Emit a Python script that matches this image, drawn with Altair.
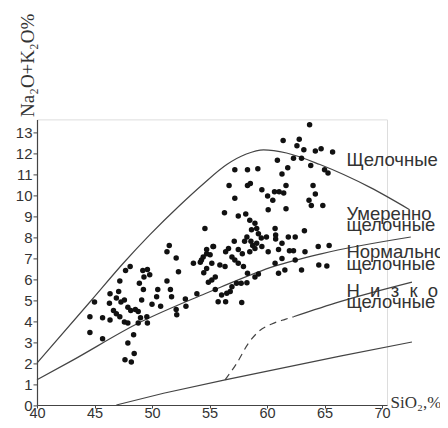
import altair as alt
import pandas as pd

# ---- scatter data: SiO2 (%) and Na2O+K2O (%) ----
sio2 = [
    51.3, 52.1, 52.3, 53.6, 54.2, 54.5, 48.1, 47.7, 49.2, 49.6,
    49.8, 49.3, 47.2, 48.9, 49.25, 51.3, 50.5, 51.6, 51.7, 46.35,
    47.1, 45.0, 46.3, 46.9, 47.3, 47.6, 49.1, 50.0, 50.4, 50.75,
    47.9, 48.15, 48.55, 48.8, 46.65, 46.9, 47.2, 44.6, 45.7, 46.35,
    47.6, 47.9, 48.8, 49.0, 49.55, 49.6, 52.1, 52.15, 52.95, 52.9,
    53.9, 44.6, 45.7, 48.4, 47.9, 48.45, 47.65, 48.2, 51.5, 54.45,
    54.75, 54.3, 55.3, 55.5,
    63.7, 61.4, 62.8, 62.6, 63.2, 64.2, 64.7, 65.7, 60.9, 62.3,
    63.0, 61.8, 61.3, 63.8, 65.0, 65.3, 57.2, 58.3, 59.2, 56.7,
    58.3, 58.55, 59.55, 60.05, 60.5, 60.65, 61.05, 61.45, 61.65, 64.0,
    64.2, 63.65, 63.85, 64.85, 57.2, 60.1, 61.65, 56.3, 57.5, 58.15,
    58.5, 58.95, 59.1, 58.65, 59.25, 59.5, 59.95, 58.25, 58.05, 58.6,
    58.75, 59.1, 60.7, 60.75, 60.75, 61.3, 62.3, 61.95, 63.3, 63.25,
    62.45, 61.85, 64.45, 65.4, 57.15, 56.65, 56.4, 57.5, 57.85, 58.5,
    58.95, 59.55, 60.1, 61.0, 55.35, 54.75, 55.05, 54.6, 56.95,
    60.7, 61.3, 62.45, 64.5, 65.2, 63.0, 61.55, 61.0, 59.25, 58.95,
    58.3, 57.95, 57.5, 57.2, 56.35, 55.9, 55.2, 54.75, 55.5, 55.2,
    54.9, 57.35, 57.75, 58.25, 56.95, 56.8, 56.5, 56.05, 55.75, 56.4,
    57.8,
]
alk = [
    7.3, 7.0, 6.35, 6.75, 6.8, 6.3, 6.6, 6.4, 6.4, 6.45,
    6.2, 6.1, 5.9, 5.8, 5.5, 5.9, 5.5, 5.5, 5.15, 5.3,
    5.4, 4.9, 4.85, 5.1, 4.9, 5.0, 5.0, 4.8, 5.15, 4.7,
    4.65, 4.5, 4.55, 4.45, 4.5, 4.35, 4.2, 4.2, 4.15, 4.05,
    3.95, 3.9, 3.9, 4.15, 4.2, 3.9, 4.55, 4.3, 4.7, 5.05,
    5.3, 3.45, 3.15, 3.35, 2.95, 2.45, 2.15, 2.05, 7.6, 7.05,
    7.2, 6.9, 7.55, 5.5,
    13.35, 12.6, 12.65, 12.35, 12.15, 12.1, 12.2, 12.05, 11.65, 11.75,
    11.75, 11.3, 11.0, 11.4, 11.2, 11.05, 11.2, 11.2, 11.25, 10.45,
    10.45, 10.55, 10.25, 9.95, 9.75, 10.15, 10.15, 10.1, 10.45, 10.45,
    10.05, 9.75, 9.5, 9.5, 9.85, 9.3, 9.35, 9.15, 9.0, 9.1,
    8.8, 8.65, 8.4, 8.35, 8.15, 7.95, 8.0, 8.0, 7.8, 7.8,
    7.6, 7.7, 8.4, 8.1, 7.9, 7.7, 7.35, 7.35, 7.3, 8.3,
    8.0, 8.0, 7.55, 7.6, 7.8, 7.45, 7.3, 7.4, 7.2, 7.3,
    7.45, 7.55, 7.3, 7.4, 7.55, 7.4, 7.15, 8.4, 7.05,
    6.75, 6.98, 6.9, 6.67, 6.62, 6.43, 6.43, 6.27, 6.24, 6.1,
    6.27, 6.6, 6.75, 6.9, 6.6, 6.67, 6.75, 6.5, 6.1, 5.95,
    5.85, 5.8, 5.8, 5.82, 5.63, 5.4, 5.32, 5.24, 4.92, 4.92,
    4.88,
]

# ---- boundary lines ----
upper_x = [40, 44.75, 47.5, 49.8, 52.4, 54.5, 56.5, 58.2, 59.7, 61.7, 64.6, 69.0, 72.4]
upper_y = [2.0, 5.0, 6.75, 8.1, 9.5, 10.55, 11.45, 11.95, 12.15, 12.0, 11.45, 10.35, 9.3]

middle_x = [40, 43.0, 49.0, 54.6, 56.0, 60.6, 64.7, 72.5]
middle_y = [1.2, 2.1, 3.95, 5.3, 5.62, 6.6, 7.2, 8.0]

lower_x = [46.9, 51.0, 56.35, 66.35, 72.6]
lower_y = [0.0, 0.56, 1.2, 2.33, 3.0]

dash_x = [56.35, 57.36, 58.38, 59.25, 60.41, 61.57, 62.3]
dash_y = [1.2, 1.98, 2.94, 3.49, 3.86, 4.08, 4.2]

low2_x = [62.3, 66.35, 72.6]
low2_y = [4.2, 4.92, 5.85]

# ---- field labels ----
labels = ["Щелочные", "Умеренно", "щелочные", "Нормально", "щелочные",
          "Н\u00a0\u00a0и\u00a0\u00a0з\u00a0\u00a0к\u00a0\u00a0о", "щелочные"]
label_x = [66.9] * 7
label_y = [11.67, 9.1, 8.57, 7.29, 6.71, 5.43, 4.9]

x_ticks = [40, 45, 50, 55, 60, 65, 70]
y_ticks = list(range(0, 14))

pts = pd.DataFrame({"x": sio2, "y": alk})


def seg(xs, ys, name):
    return pd.DataFrame({"x": xs, "y": ys, "seg": name, "o": range(len(xs))})


smooth = pd.concat([seg(upper_x, upper_y, "upper"), seg(middle_x, middle_y, "middle"),
                    seg(low2_x, low2_y, "low2")])
straight = seg(lower_x, lower_y, "lower")
dashed = seg(dash_x, dash_y, "dash")
lab = pd.DataFrame({"x": label_x, "y": label_y, "t": labels})

X = alt.X("x:Q",
          scale=alt.Scale(domain=[40, 70.43], nice=False, zero=False),
          axis=alt.Axis(values=x_ticks, grid=False, title="SiO₂,%",
                        titleX=353, titleY=-3, titleAlign="left", titleBaseline="middle",
                        titleAngle=0, titleFont="Liberation Serif", titleFontSize=17,
                        titleFontWeight="normal", titleColor="#333",
                        labelFont="Liberation Sans", labelFontSize=14.5, labelColor="#333",
                        labelPadding=-2, tickSize=3, tickColor="#444", domainColor="#444",
                        domainWidth=1.2, labelFlush=False))
Y = alt.Y("y:Q",
          scale=alt.Scale(domain=[0, 13.6], nice=False, zero=False),
          axis=alt.Axis(values=y_ticks, grid=False, title="Na₂O+K₂O%",
                        titleX=-10, titleY=-3, titleAngle=270, titleAlign="left",
                        titleBaseline="middle", titleFont="Liberation Serif",
                        titleFontSize=19, titleFontWeight="normal", titleColor="#333",
                        labelFont="Liberation Sans", labelFontSize=15, labelColor="#333",
                        labelPadding=1, tickSize=4, tickColor="#444", domainColor="#444",
                        domainWidth=1.2, labelFlush=False))

line_smooth = alt.Chart(smooth).mark_line(color="#444", strokeWidth=1.2,
                                          interpolate="monotone").encode(
    x=X, y=Y, detail="seg:N", order="o:Q")
line_straight = alt.Chart(straight).mark_line(color="#444", strokeWidth=1.2).encode(
    x=X, y=Y, order="o:Q")
line_dash = alt.Chart(dashed).mark_line(color="#444", strokeWidth=1.2, strokeDash=[7, 5],
                                        interpolate="monotone").encode(
    x=X, y=Y, order="o:Q")
points = alt.Chart(pts).mark_circle(size=30, color="#111", opacity=1).encode(x=X, y=Y)
texts = alt.Chart(lab).mark_text(align="left", baseline="middle", font="Liberation Sans",
                                 fontSize=18.5, color="#333").encode(x=X, y=Y, text="t:N")

chart = alt.layer(line_smooth, line_straight, line_dash, points, texts).properties(
    width=350, height=285.6,
    autosize=alt.AutoSizeParams(type="none"),
    padding={"left": 29, "top": 111.4, "right": 53, "bottom": 15},
).configure_view(stroke=None).configure(background="white")

chart.save("out.html", embed_options={"renderer": "svg", "actions": False})
